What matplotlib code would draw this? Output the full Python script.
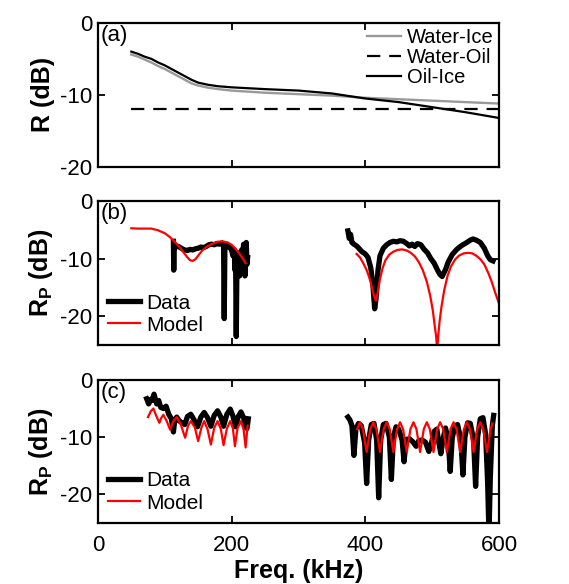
import matplotlib
matplotlib.use("Agg")
import matplotlib.pyplot as plt

plt.rcParams['font.family'] = ['Liberation Sans', 'DejaVu Sans']
plt.rcParams['mathtext.fontset'] = 'custom'
plt.rcParams['mathtext.rm'] = 'Liberation Sans'
plt.rcParams['mathtext.bf'] = 'Liberation Sans:bold'
plt.rcParams['axes.unicode_minus'] = False

# (a) reflection coefficients of the interfaces
f_a = [50, 60, 70, 80, 90, 100, 110, 120, 130, 140, 150, 165, 180, 200,
       250, 300, 350, 400, 450, 500, 550, 600]
oil_ice = [-4.0, -4.3, -4.7, -5.0, -5.5, -5.9, -6.4, -6.9, -7.4, -7.9, -8.3,
           -8.6, -8.8, -8.95, -9.2, -9.4, -9.8, -10.5, -11.0, -11.7, -12.4, -13.2]
water_ice = [-4.4, -4.7, -5.1, -5.5, -6.0, -6.4, -6.9, -7.4, -7.9, -8.4, -8.7,
             -9.0, -9.2, -9.4, -9.7, -9.9, -10.1, -10.4, -10.6, -10.8, -11.0, -11.2]
f_wo = [50, 600]
water_oil = [-11.9, -11.9]

# (b) measured / modelled, low band and high band
fb_data1 = [113, 113.5, 114, 115, 118, 122, 126, 130, 134, 138, 142, 146, 150,
            154, 158, 162, 166, 170, 174, 178, 182, 186, 188, 189, 190, 192, 195,
            198, 200, 202, 204, 205, 206, 207, 208, 209, 210, 211, 212, 213, 214,
            215, 216, 217, 218, 219, 220, 221, 222, 223, 224]
rb_data1 = [-7.0, -12.0, -7.5, -8.2, -7.8, -8.0, -8.3, -8.5, -8.6, -8.4, -8.5,
            -8.3, -8.2, -8.0, -8.1, -7.9, -7.6, -7.5, -7.6, -7.4, -7.5, -7.3, -7.5,
            -20.4, -7.8, -7.6, -7.9, -8.2, -8.5, -9.5, -8.5, -12.0, -10.0, -23.5,
            -11.0, -9.0, -12.5, -9.5, -13.0, -10.0, -12.0, -8.5, -11.5, -9.0, -7.5,
            -10.0, -13.0, -8.0, -7.2, -11.0, -9.8]
fb_data2 = [374, 376, 378, 380, 383, 387, 391, 395, 400, 404, 408, 411, 414,
            416, 419, 422, 427, 432, 437, 442, 447, 452, 457, 462, 466, 470, 474,
            478, 483, 488, 493, 498, 503, 508, 512, 515, 517, 520, 524, 530, 536,
            541, 546, 552, 557, 561, 566, 572, 578, 583, 587, 591]
rb_data2 = [-5.2, -6.5, -5.8, -7.2, -7.5, -7.8, -8.3, -8.8, -9.2, -9.8, -11.5,
            -14.0, -18.7, -17.0, -12.0, -9.5, -8.2, -7.6, -7.2, -7.0, -7.1, -6.9,
            -7.0, -7.4, -7.8, -7.5, -7.9, -7.4, -7.6, -8.4, -9.0, -10.0, -10.8,
            -12.0, -12.8, -13.1, -12.6, -11.9, -10.6, -9.3, -8.5, -8.0, -7.6, -7.2,
            -6.8, -6.6, -6.8, -7.2, -8.2, -9.5, -10.2, -10.4]
fb_model1 = [50, 60, 70, 80, 90, 100, 108, 115, 122, 128, 134, 138, 142, 146,
             150, 156, 162, 170, 178, 186, 194, 200, 206, 212, 218, 221]
rb_model1 = [-4.75, -4.8, -4.8, -4.8, -5.1, -5.6, -6.3, -7.1, -8.0, -8.9, -9.8,
             -10.3, -10.4, -10.1, -9.5, -8.6, -8.0, -7.5, -7.1, -7.0, -7.2, -7.6,
             -8.3, -9.2, -10.2, -10.8]
fb_model2 = [387, 392, 397, 402, 406, 410, 413, 416, 419, 422, 426, 430, 436,
             442, 448, 455, 462, 468, 474, 480, 486, 492, 497, 501, 504, 506, 507.5,
             509, 511, 514, 518, 523, 528, 534, 540, 547, 554, 560, 566, 572, 578,
             584, 589, 594, 600]
rb_model2 = [-9.2, -9.8, -10.8, -12.0, -13.3, -15.0, -16.5, -17.3, -15.6, -13.5,
             -11.6, -10.3, -9.3, -8.8, -8.5, -8.4, -8.6, -9.0, -9.6, -10.6, -12.0,
             -14.0, -16.4, -19.0, -21.8, -23.5, -26.0, -23.5, -21.0, -18.3, -15.5,
             -13.0, -11.4, -10.2, -9.5, -9.1, -9.0, -9.1, -9.5, -10.1, -11.0,
             -12.5, -14.0, -15.8, -17.8]

# (c) measured / modelled, low band and high band
fc_data1 = [73, 76, 79, 81, 84, 88, 91, 94, 98, 102, 106, 110, 113, 115, 118,
            122, 126, 130, 134, 139, 144, 149, 154, 159, 164, 169, 174, 179, 184,
            188, 193, 198, 202, 206, 210, 214, 218, 221, 223, 225]
rc_data1 = [-3.3, -4.2, -3.4, -3.6, -2.5, -4.2, -3.6, -4.8, -5.0, -4.6, -6.0,
            -6.8, -9.1, -7.0, -6.5, -7.2, -7.5, -7.8, -6.4, -6.0, -7.0, -8.2, -6.5,
            -5.7, -6.6, -8.1, -6.2, -5.4, -6.5, -8.1, -6.0, -5.1, -6.3, -8.2, -6.4,
            -5.6, -6.6, -8.3, -8.5, -6.8]
fc_model1 = [75, 79, 83, 87, 92, 95, 98, 103, 108, 113, 118, 124, 130.5, 135,
             139, 145, 150, 155, 159, 164, 169, 174, 179, 184, 188, 193, 198, 202,
             205, 209, 214, 218, 221, 224]
rc_model1 = [-6.5, -5.5, -5.0, -6.2, -7.5, -6.6, -6.1, -7.2, -8.7, -7.2, -6.5,
             -7.8, -10.1, -8.0, -7.2, -8.3, -10.7, -8.3, -7.2, -8.6, -11.3, -8.4,
             -7.2, -8.6, -11.4, -8.5, -7.2, -8.5, -11.6, -8.4, -7.2, -8.7, -11.8,
             -8.0]
fc_data2 = [374, 377, 380, 383, 386, 390, 394, 399, 402, 405, 409, 413, 417,
            420, 423, 427, 431, 436, 439, 442, 446, 450, 455, 458, 461, 466, 471,
            476, 480, 485, 490, 495, 499, 503, 507, 510, 513, 516, 520, 524, 527,
            530, 534, 538, 543, 546, 549, 553, 557, 562, 565, 568, 572, 576, 580,
            583, 585, 587, 590, 592]
rc_data2 = [-6.5, -7.0, -8.0, -13.2, -8.5, -7.6, -8.0, -11.0, -18.1, -10.5,
            -7.8, -7.6, -10.5, -20.6, -10.5, -7.8, -7.6, -10.0, -17.4, -10.0, -8.2,
            -8.6, -10.5, -14.3, -10.4, -10.3, -10.8, -11.6, -10.6, -10.5, -10.9,
            -12.5, -11.0, -9.0, -8.6, -11.0, -12.9, -10.5, -8.4, -10.5, -16.0,
            -10.2, -8.0, -7.8, -10.5, -16.6, -10.0, -7.5, -7.6, -10.5, -18.6, -10.0,
            -6.8, -6.6, -9.5, -18.0, -27.0, -17.0, -8.0, -6.2]
fc_model2 = [388, 392, 396.5, 402, 407.5, 412, 416.5, 422, 427.5, 432, 436.5,
             442, 447.5, 452, 456.5, 462, 467.5, 472, 476.5, 482, 487.5, 492,
             496.5, 502, 507.5, 512, 516.5, 522, 527.5, 532, 536.5, 542, 547.5,
             552, 556.5, 562, 567.5, 572, 576.5, 582, 587.5, 590]
rc_model2 = [-8.6, -7.4, -8.6, -12.6, -8.6, -7.4, -8.6, -12.6, -8.6, -7.4, -8.6,
             -12.6, -8.6, -7.4, -8.6, -12.6, -8.6, -7.4, -8.6, -12.6, -8.6, -7.4,
             -8.6, -12.6, -8.6, -7.4, -8.6, -12.6, -8.6, -7.4, -8.6, -12.6, -8.6,
             -7.4, -8.6, -12.6, -8.6, -7.4, -8.6, -12.6, -8.6, -7.6]

xticks = [0, 200, 400, 600]

fig = plt.figure(figsize=(5.69, 5.84), dpi=100)
ax_a = fig.add_axes([0.172, 0.714, 0.705, 0.247])
ax_b = fig.add_axes([0.172, 0.409, 0.705, 0.247])
ax_c = fig.add_axes([0.172, 0.1045, 0.705, 0.245])


def style(ax, ylim, yticks, letter):
    ax.set_xlim(0, 600)
    ax.set_ylim(*ylim)
    ax.set_xticks(xticks)
    ax.set_yticks(yticks)
    ax.tick_params(direction='in', top=True, right=True, length=5, width=1.3,
                   labelsize=16)
    ax.tick_params(axis='x', pad=9)
    ax.tick_params(axis='y', pad=4)
    for sp in ax.spines.values():
        sp.set_linewidth(1.6)
    ax.text(0.008, 0.985, letter, transform=ax.transAxes, fontsize=16,
            ha='left', va='top')


# (a)
ax_a.plot(f_a, water_ice, color='#999999', lw=1.7, label='Water-Ice')
ax_a.plot(f_wo, water_oil, color='black', lw=1.6, dashes=(6, 4), label='Water-Oil')
ax_a.plot(f_a, oil_ice, color='black', lw=1.6, label='Oil-Ice')
style(ax_a, (-20, 0), [-20, -10, 0], '(a)')
ax_a.set_xticklabels([])
ax_a.set_ylabel('R (dB)', fontsize=18, fontweight='bold', labelpad=4)
ax_a.legend(loc='upper right', frameon=False, fontsize=14.5, handlelength=1.7,
            handletextpad=0.3, labelspacing=0.05, borderaxespad=0.1,
            borderpad=0.15)

# (b)
ax_b.plot(fb_data1, rb_data1, color='black', lw=3.8, label='Data')
ax_b.plot(fb_data2, rb_data2, color='black', lw=3.8)
ax_b.plot(fb_model1, rb_model1, color='red', lw=1.6, label='Model')
ax_b.plot(fb_model2, rb_model2, color='red', lw=1.6)
style(ax_b, (-25, 0), [-20, -10, 0], '(b)')
ax_b.set_xticklabels([])
ax_b.set_ylabel(r'$\mathbf{R_P}$ (dB)', fontsize=18, fontweight='bold', labelpad=4)
ax_b.legend(loc='lower left', frameon=False, fontsize=15, handlelength=1.5,
            handletextpad=0.3, labelspacing=0.15, borderaxespad=0.2,
            borderpad=0.3)

# (c)
ax_c.plot(fc_data1, rc_data1, color='black', lw=3.8, label='Data')
ax_c.plot(fc_data2, rc_data2, color='black', lw=3.8)
ax_c.plot(fc_model1, rc_model1, color='red', lw=1.6, label='Model')
ax_c.plot(fc_model2, rc_model2, color='red', lw=1.6)
style(ax_c, (-25, 0), [-20, -10, 0], '(c)')
ax_c.set_ylabel(r'$\mathbf{R_P}$ (dB)', fontsize=18, fontweight='bold', labelpad=4)
ax_c.set_xlabel('Freq. (kHz)', fontsize=18, fontweight='bold', labelpad=2)
ax_c.legend(loc='lower left', frameon=False, fontsize=15, handlelength=1.5,
            handletextpad=0.3, labelspacing=0.15, borderaxespad=0.2,
            borderpad=0.3)

fig.savefig('out.png', dpi=100)
